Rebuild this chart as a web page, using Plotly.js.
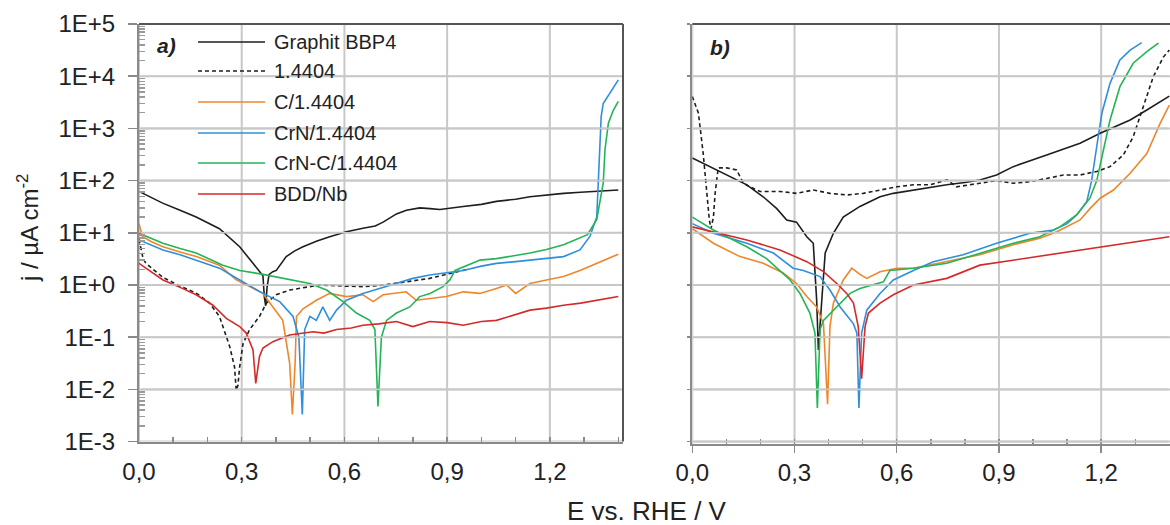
<!DOCTYPE html>
<html>
<head>
<meta charset="utf-8">
<script src="https://cdn.plot.ly/plotly-3.0.1.min.js"></script>
<style>html,body{margin:0;padding:0;background:#fff;}#chart{width:1170px;height:525px;}</style>
</head>
<body>
<div id="chart"></div>
<script>
// ---------- Data ----------
const seriesNames = ['Graphit BBP4', '1.4404', 'C/1.4404', 'CrN/1.4404', 'CrN-C/1.4404', 'BDD/Nb'];
const xTickVals = [0, 0.3, 0.6, 0.9, 1.2];
const xTickText = ['0,0', '0,3', '0,6', '0,9', '1,2'];
const yTickVals = [1e-3, 1e-2, 1e-1, 1e0, 1e1, 1e2, 1e3, 1e4, 1e5];
const yTickText = ['1E-3', '1E-2', '1E-1', '1E+0', '1E+1', '1E+2', '1E+3', '1E+4', '1E+5'];

// Panel a)
const aGraphitE = [0, 0.035, 0.069, 0.12, 0.167, 0.235, 0.294, 0.333, 0.357, 0.362, 0.366, 0.370, 0.374, 0.380, 0.391, 0.401, 0.43, 0.455, 0.479, 0.52, 0.557, 0.606, 0.654, 0.69, 0.713, 0.752, 0.781, 0.82, 0.85, 0.879, 0.947, 1.0, 1.044, 1.1, 1.142, 1.19, 1.24, 1.29, 1.337, 1.40];
const aGraphitJ = [62, 48, 37, 27, 20, 12, 5.4, 2.6, 1.7, 1.5, 0.6, 0.4, 0.9, 1.6, 1.8, 1.9, 3.5, 4.5, 5.4, 7, 8.4, 10.5, 12.2, 13.5, 16, 23, 27, 30, 29, 28, 32, 35, 40, 44, 49, 53, 57, 60, 62, 66];

const aSteelE = [0, 0.006, 0.012, 0.02, 0.07, 0.12, 0.167, 0.206, 0.235, 0.265, 0.279, 0.284, 0.289, 0.294, 0.304, 0.323, 0.352, 0.372, 0.401, 0.44, 0.499, 0.528, 0.606, 0.654, 0.70, 0.752, 0.80, 0.849, 0.90, 0.947, 0.96];
const aSteelJ = [7.5, 4.5, 3.2, 2.6, 1.4, 0.95, 0.7, 0.45, 0.25, 0.066, 0.027, 0.0095, 0.012, 0.027, 0.076, 0.14, 0.25, 0.45, 0.65, 0.8, 0.93, 1.0, 0.95, 0.93, 0.97, 1.07, 1.2, 1.34, 1.6, 1.9, 2.0];

const aCE = [0, 0.01, 0.035, 0.07, 0.12, 0.167, 0.235, 0.284, 0.323, 0.362, 0.391, 0.42, 0.44, 0.448, 0.456, 0.46, 0.479, 0.518, 0.557, 0.606, 0.654, 0.684, 0.713, 0.752, 0.78, 0.81, 0.85, 0.898, 0.947, 0.996, 1.044, 1.074, 1.10, 1.142, 1.19, 1.24, 1.288, 1.337, 1.40];
const aCJ = [15, 8.5, 6.8, 5.4, 4.3, 3.5, 2.4, 1.25, 0.93, 0.69, 0.38, 0.21, 0.032, 0.0033, 0.032, 0.25, 0.35, 0.51, 0.69, 0.6, 0.65, 0.48, 0.65, 0.69, 0.74, 0.51, 0.55, 0.6, 0.74, 0.69, 0.86, 1.0, 0.69, 1.07, 1.25, 1.45, 1.9, 2.6, 3.9];

const aCrNE = [0, 0.035, 0.07, 0.12, 0.167, 0.235, 0.294, 0.362, 0.411, 0.45, 0.467, 0.477, 0.484, 0.499, 0.518, 0.537, 0.557, 0.577, 0.606, 0.654, 0.70, 0.752, 0.80, 0.849, 0.898, 0.947, 1.0, 1.044, 1.1, 1.142, 1.19, 1.24, 1.288, 1.317, 1.337, 1.342, 1.346, 1.350, 1.356, 1.376, 1.40];
const aCrNJ = [7.3, 5.8, 4.7, 3.8, 3.0, 2.1, 1.25, 0.69, 0.48, 0.25, 0.1, 0.0033, 0.14, 0.25, 0.21, 0.38, 0.21, 0.33, 0.51, 0.69, 0.85, 1.07, 1.34, 1.55, 1.7, 1.9, 2.3, 2.6, 2.8, 3.0, 3.2, 3.5, 4.7, 8.5, 20, 89, 390, 1700, 3000, 4700, 8500];

const aCrNCE = [0, 0.035, 0.07, 0.12, 0.167, 0.245, 0.294, 0.362, 0.44, 0.499, 0.548, 0.596, 0.635, 0.674, 0.689, 0.698, 0.708, 0.723, 0.752, 0.791, 0.82, 0.85, 0.888, 0.908, 0.923, 0.947, 0.996, 1.044, 1.09, 1.142, 1.19, 1.24, 1.31, 1.337, 1.356, 1.361, 1.371, 1.385, 1.40];
const aCrNCJ = [9.8, 7.8, 6.3, 5.0, 4.1, 2.4, 1.9, 1.6, 1.25, 1.07, 0.8, 0.48, 0.29, 0.21, 0.14, 0.0047, 0.1, 0.21, 0.29, 0.38, 0.6, 0.69, 0.93, 1.25, 1.9, 2.2, 3.0, 3.2, 3.6, 4.1, 4.8, 5.9, 9.2, 18, 89, 390, 1260, 2200, 3300];

const aBddE = [0, 0.035, 0.07, 0.12, 0.167, 0.216, 0.255, 0.294, 0.313, 0.333, 0.341, 0.352, 0.362, 0.391, 0.44, 0.508, 0.54, 0.577, 0.62, 0.654, 0.70, 0.752, 0.80, 0.849, 0.90, 0.947, 1.0, 1.044, 1.09, 1.142, 1.19, 1.24, 1.29, 1.337, 1.40];
const aBddJ = [2.6, 1.8, 1.25, 0.9, 0.65, 0.41, 0.23, 0.16, 0.12, 0.057, 0.013, 0.043, 0.062, 0.082, 0.11, 0.127, 0.12, 0.14, 0.15, 0.17, 0.18, 0.2, 0.16, 0.2, 0.19, 0.17, 0.2, 0.21, 0.26, 0.33, 0.36, 0.41, 0.45, 0.51, 0.6];

// Panel b)
const bGraphitE = [0, 0.062, 0.11, 0.16, 0.208, 0.248, 0.277, 0.306, 0.336, 0.355, 0.365, 0.370, 0.38, 0.39, 0.414, 0.443, 0.492, 0.551, 0.59, 0.649, 0.70, 0.747, 0.80, 0.844, 0.893, 0.942, 1.04, 1.138, 1.197, 1.285, 1.334, 1.40];
const bGraphitJ = [270, 173, 120, 83, 49, 29, 17.6, 16, 8.4, 6.3, 0.51, 0.057, 0.51, 4.1, 9.8, 20, 32, 49, 57, 66, 75, 83, 92, 103, 128, 185, 310, 520, 810, 1450, 2250, 4150];

const bSteelE = [0, 0.018, 0.032, 0.042, 0.05, 0.055, 0.062, 0.067, 0.076, 0.101, 0.13, 0.15, 0.169, 0.199, 0.257, 0.306, 0.355, 0.404, 0.453, 0.502, 0.551, 0.6, 0.649, 0.698, 0.747, 0.776, 0.844, 0.893, 0.942, 0.991, 1.04, 1.089, 1.138, 1.187, 1.226, 1.265, 1.294, 1.324, 1.353, 1.383, 1.40];
const bSteelJ = [4100, 1950, 330, 76, 17.6, 12, 20, 57, 175, 175, 160, 89, 76, 62, 62, 57, 66, 57, 53, 57, 66, 76, 83, 83, 103, 76, 89, 100, 89, 95, 110, 128, 128, 150, 185, 310, 690, 2600, 9800, 23500, 31600];

const bCE = [0, 0.062, 0.14, 0.208, 0.267, 0.306, 0.336, 0.365, 0.385, 0.397, 0.404, 0.414, 0.443, 0.468, 0.492, 0.512, 0.551, 0.6, 0.649, 0.747, 0.844, 0.942, 1.02, 1.07, 1.138, 1.167, 1.197, 1.236, 1.285, 1.334, 1.373, 1.40];
const bCJ = [12, 6.3, 3.5, 2.6, 1.7, 1.07, 0.6, 0.38, 0.18, 0.0052, 0.16, 0.45, 1.25, 2.1, 1.6, 1.34, 1.8, 2.1, 2.1, 2.8, 3.8, 5.9, 7.9, 10.5, 17.6, 29, 46, 66, 138, 330, 1250, 2800];

const bCrNE = [0, 0.062, 0.16, 0.238, 0.296, 0.326, 0.375, 0.404, 0.434, 0.473, 0.483, 0.489, 0.497, 0.512, 0.551, 0.59, 0.649, 0.707, 0.795, 0.893, 0.991, 1.06, 1.10, 1.128, 1.158, 1.172, 1.187, 1.202, 1.226, 1.255, 1.285, 1.319];
const bCrNJ = [15, 9.8, 6.3, 4.1, 2.1, 1.9, 1.45, 0.8, 0.38, 0.18, 0.12, 0.0044, 0.12, 0.33, 0.69, 1.25, 1.9, 2.8, 3.8, 6.3, 9.8, 11.3, 15, 22, 40, 100, 450, 1950, 7300, 20400, 31600, 44000];

const bCrNCE = [0, 0.062, 0.16, 0.218, 0.287, 0.316, 0.345, 0.36, 0.367, 0.375, 0.385, 0.424, 0.463, 0.492, 0.531, 0.561, 0.58, 0.649, 0.747, 0.844, 0.942, 1.02, 1.079, 1.128, 1.167, 1.187, 1.206, 1.226, 1.255, 1.294, 1.334, 1.368];
const bCrNCJ = [20, 11.3, 5.4, 3.2, 1.25, 0.69, 0.29, 0.12, 0.0044, 0.14, 0.21, 0.38, 0.69, 0.86, 1.0, 1.15, 1.9, 2.1, 2.6, 4.1, 6.3, 8.4, 13, 22, 46, 100, 390, 1450, 6300, 17700, 29500, 43000];

const bBddE = [0, 0.062, 0.16, 0.257, 0.336, 0.385, 0.424, 0.453, 0.473, 0.487, 0.497, 0.507, 0.517, 0.551, 0.59, 0.649, 0.747, 0.844, 0.942, 1.04, 1.138, 1.236, 1.40];
const bBddJ = [13, 10.5, 7.3, 4.7, 2.8, 1.8, 1.07, 0.69, 0.45, 0.16, 0.016, 0.16, 0.29, 0.45, 0.65, 1.0, 1.34, 2.4, 3.0, 3.8, 4.7, 5.9, 8.4];

// ---------- Styling ----------
const colors = ['#1e1e1e', '#1e1e1e', '#f0862a', '#2f8fdc', '#24b457', '#d42a2a'];
const dashes = ['solid', '4px,3px', 'solid', 'solid', 'solid', 'solid'];
const FONT = 'Liberation Sans, Arial, sans-serif';
const TXT = '#222';
const AX = '#8a8a8a';
const GRID = '#c8c8c8';

const W = 1170, H = 525, L = 139, R = 0, T = 24, B = 81;
const pw = W - L - R, ph = H - T - B;
const px2x = p => (p - L) / pw;
const py2y = p => (H - B - p) / ph;

const xRangeA = [0, 1.4137], xRangeB = [0, 1.402];
const yRangeA = [-3, 5], yRangeB = [-3.046, 5];   // log10 ranges
const domA = [0, px2x(623)], domB = [px2x(692.3), 1];
const yDomA = [py2y(441.6), 1], yDomB = [0, 1];

// minor tick positions on the log axis (2..9 per decade)
const yMinorVals = [];
yTickVals.slice(0, -1).forEach(d => { for (let k = 2; k <= 9; k++) yMinorVals.push(k * d); });

const panelA = [[aGraphitE, aGraphitJ], [aSteelE, aSteelJ], [aCE, aCJ], [aCrNE, aCrNJ], [aCrNCE, aCrNCJ], [aBddE, aBddJ]];
const panelB = [[bGraphitE, bGraphitJ], [bSteelE, bSteelJ], [bCE, bCJ], [bCrNE, bCrNJ], [bCrNCE, bCrNCJ], [bBddE, bBddJ]];

const traces = [];
panelA.forEach((s, i) => traces.push({x: s[0], y: s[1], xaxis: 'x', yaxis: 'y', mode: 'lines', name: seriesNames[i], showlegend: false,
  line: {color: colors[i], width: 1.6, dash: dashes[i]}}));
panelB.forEach((s, i) => traces.push({x: s[0], y: s[1], xaxis: 'x2', yaxis: 'y2', mode: 'lines', name: seriesNames[i], showlegend: false,
  line: {color: colors[i], width: 1.6, dash: dashes[i]}}));
// empty carriers so the tick-only overlay axes get drawn
traces.push({x: [], y: [], xaxis: 'x3', yaxis: 'y', mode: 'lines', showlegend: false, hoverinfo: 'skip'});
traces.push({x: [], y: [], xaxis: 'x', yaxis: 'y3', mode: 'lines', showlegend: false, hoverinfo: 'skip'});
traces.push({x: [], y: [], xaxis: 'x4', yaxis: 'y2', mode: 'lines', showlegend: false, hoverinfo: 'skip'});
traces.push({x: [], y: [], xaxis: 'x5', yaxis: 'y2', mode: 'lines', showlegend: false, hoverinfo: 'skip'});

const axisCommon = {
  showline: true, linecolor: AX, linewidth: 2, showgrid: false, zeroline: false,
  tickfont: {family: FONT, size: 24, color: TXT}, tickcolor: AX, tickwidth: 1.5
};
const tickOnly = {showline: false, showgrid: false, zeroline: false, showticklabels: false, tickcolor: AX, tickwidth: 1.5};

const shapes = [];
[['x', 'y', xRangeA, yRangeA, domA, yDomA], ['x2', 'y2', xRangeB, yRangeB, domB, yDomB]].forEach(([xa, ya, xr, yr, xd, yd]) => {
  // vertical grid lines at the x tick values
  xTickVals.forEach(v => shapes.push({type: 'line', layer: 'below', xref: xa, yref: ya + ' domain', x0: v, x1: v, y0: 0, y1: 1,
    line: {color: GRID, width: 2}}));
  // horizontal grid lines at each decade, in data coordinates of both axes
  yTickVals.forEach(v => shapes.push({type: 'line', layer: 'below', xref: xa, yref: ya, x0: xr[0], x1: xr[1], y0: v, y1: v,
    line: {color: GRID, width: 2}}));
  // same decades placed on the page from the axis range (fallback layer)
  yTickVals.forEach(v => {
    const lv = Math.log10(v);
    if (lv <= yr[0] || lv >= yr[1]) return;
    const yp = yd[0] + (lv - yr[0]) / (yr[1] - yr[0]) * (yd[1] - yd[0]);
    shapes.push({type: 'line', xref: 'paper', yref: 'paper', x0: xd[0] + 0.002, x1: xd[1] - 0.002, y0: yp, y1: yp,
      line: {color: GRID, width: 1.6}});
  });
});
shapes.push(
  {type: 'line', xref: 'x domain', yref: 'y domain', x0: 0, x1: 1, y0: 1, y1: 1, line: {color: '#555', width: 2}},
  {type: 'line', xref: 'x domain', yref: 'y domain', x0: 1, x1: 1, y0: 0, y1: 1, line: {color: '#555', width: 2}},
  {type: 'line', xref: 'x2 domain', yref: 'y2 domain', x0: 0, x1: 1, y0: 1, y1: 1, line: {color: '#555', width: 2}}
);
const annotations = [];
const legendRows = [42, 71, 102, 133, 163, 194];
seriesNames.forEach((nm, i) => {
  shapes.push({type: 'line', xref: 'paper', yref: 'paper', x0: px2x(198), x1: px2x(265), y0: py2y(legendRows[i]), y1: py2y(legendRows[i]),
    line: {color: colors[i], width: 1.6, dash: dashes[i]}});
  annotations.push({xref: 'paper', yref: 'paper', x: px2x(272), y: py2y(legendRows[i]), xanchor: 'left', yanchor: 'middle',
    text: nm, showarrow: false, font: {family: FONT, size: 20, color: TXT}});
});
annotations.push({xref: 'paper', yref: 'paper', x: px2x(166), y: py2y(45), xanchor: 'center', yanchor: 'middle', text: '<b><i>a)</i></b>', showarrow: false,
  font: {family: FONT, size: 21, color: TXT}});
annotations.push({xref: 'paper', yref: 'paper', x: px2x(720), y: py2y(47), xanchor: 'center', yanchor: 'middle', text: '<b><i>b)</i></b>', showarrow: false,
  font: {family: FONT, size: 21, color: TXT}});
annotations.push({xref: 'paper', yref: 'paper', x: px2x(647), y: py2y(511), xanchor: 'center', yanchor: 'middle', text: 'E vs. RHE / V', showarrow: false,
  font: {family: FONT, size: 26, color: TXT}});
annotations.push({xref: 'paper', yref: 'paper', x: px2x(28), y: py2y(228), xanchor: 'center', yanchor: 'middle', text: 'j / µA cm<sup>-2</sup>', textangle: -90, showarrow: false,
  font: {family: FONT, size: 24, color: TXT}});

const layout = {
  width: W, height: H, margin: {l: L, r: R, t: T, b: B, pad: 0},
  paper_bgcolor: '#ffffff', plot_bgcolor: 'rgba(0,0,0,0)', showlegend: false,
  xaxis: Object.assign({}, axisCommon, {domain: domA, range: xRangeA.slice(), anchor: 'y', tickmode: 'array', tickvals: xTickVals, ticktext: xTickText,
    ticks: '', ticklabelstandoff: 8}),
  yaxis: Object.assign({}, axisCommon, {domain: yDomA, type: 'log', range: yRangeA.slice(), anchor: 'x',
    tickmode: 'array', tickvals: yTickVals.slice(), ticktext: yTickText, ticks: 'outside', ticklen: 9, ticklabelstandoff: 8}),
  xaxis2: Object.assign({}, axisCommon, {domain: domB, range: xRangeB.slice(), anchor: 'y2', tickmode: 'array', tickvals: xTickVals, ticktext: xTickText,
    ticks: '', ticklabelstandoff: 6}),
  yaxis2: Object.assign({}, axisCommon, {domain: yDomB, type: 'log', range: yRangeB.slice(), anchor: 'x2',
    tickmode: 'array', tickvals: yTickVals.slice(), ticktext: yTickText, showticklabels: false, ticks: 'outside', ticklen: 3}),
  // tick-only overlay axes
  xaxis3: Object.assign({}, tickOnly, {overlaying: 'x', anchor: 'y', side: 'bottom', range: xRangeA.slice(), tick0: 0, dtick: 0.1, ticks: 'inside', ticklen: 5}),
  yaxis3: Object.assign({}, tickOnly, {overlaying: 'y', anchor: 'x', side: 'left', type: 'log', range: yRangeA.slice(), tickmode: 'array', tickvals: yMinorVals,
    ticks: 'inside', ticklen: 6, tickcolor: '#9a9a9a'}),
  xaxis4: Object.assign({}, tickOnly, {overlaying: 'x2', anchor: 'y2', side: 'bottom', range: xRangeB.slice(), tick0: 0, dtick: 0.1, ticks: 'inside', ticklen: 5}),
  xaxis5: Object.assign({}, tickOnly, {overlaying: 'x2', anchor: 'y2', side: 'bottom', range: xRangeB.slice(), tickmode: 'array', tickvals: xTickVals,
    ticks: 'outside', ticklen: 8}),
  shapes: shapes, annotations: annotations
};

Plotly.newPlot('chart', traces, layout, {displayModeBar: false, staticPlot: true});
</script>
</body>
</html>
